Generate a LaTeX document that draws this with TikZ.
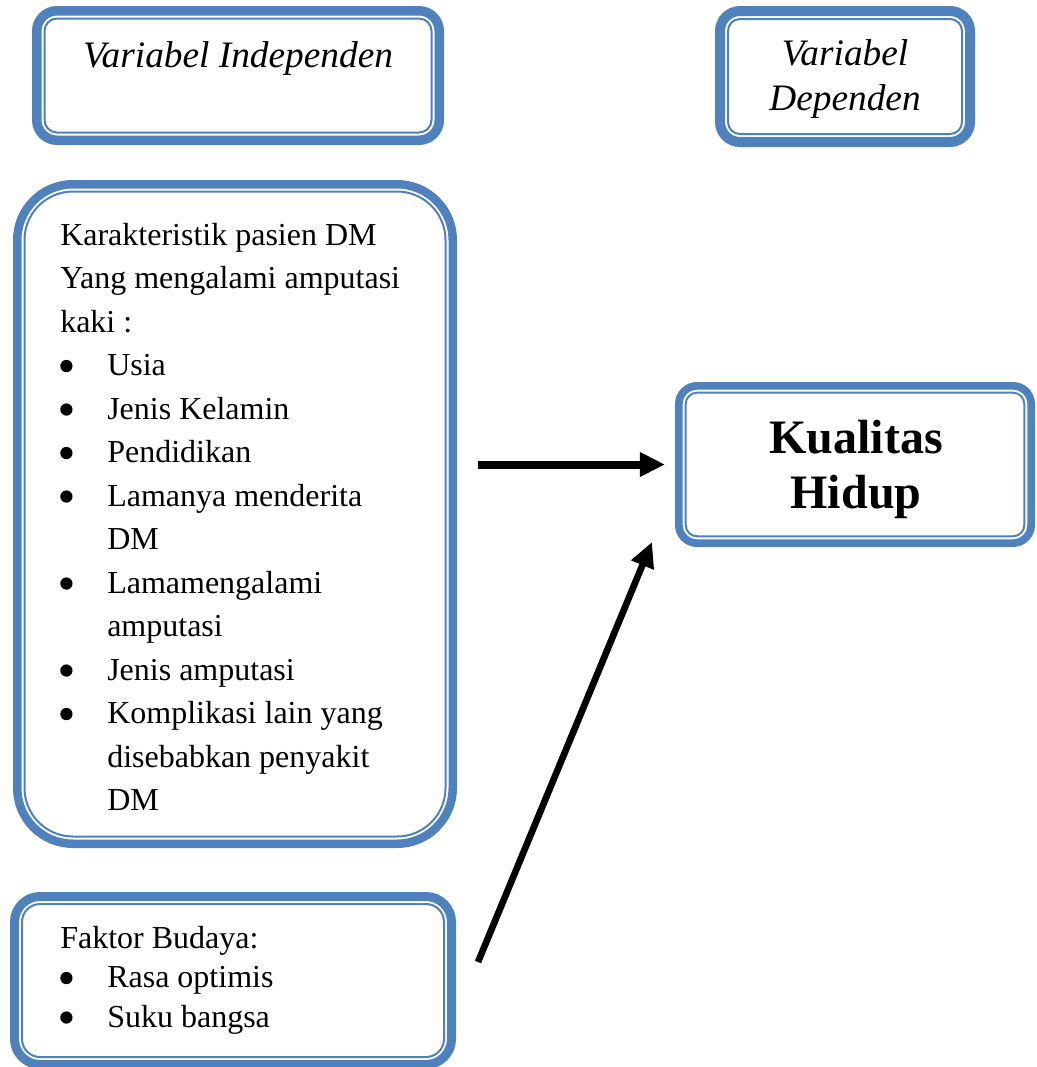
\documentclass[tikz,border=0pt]{standalone}
\usepackage{fontspec}
\setmainfont{Liberation Serif}
\usetikzlibrary{arrows.meta}
\definecolor{bxblue}{HTML}{4F81BD}
\tikzset{
  outerbox/.style={draw=bxblue, fill=white, inner sep=0pt, outer sep=0pt},
  innerline/.style={draw=bxblue, line width=1.5pt},
  bodytext/.style={font=\fontsize{24}{32.625}\selectfont, align=left, inner sep=0pt, anchor=north west},
  smalltext/.style={font=\fontsize{24}{29.6}\selectfont, align=left, inner sep=0pt, anchor=north west},
  titletext/.style={font=\fontsize{28}{33.75}\selectfont\itshape, align=center, inner sep=0pt},
  bigtext/.style={font=\fontsize{36}{41.25}\selectfont\bfseries, align=center, inner sep=0pt, anchor=north},
  arrowline/.style={draw=black, line width=#1, -{Triangle[length=18.75pt,width=17.25pt]}},
}
\newcommand\dblbox[7]{%
  \pgfmathsetmacro\bxcx{(#2+#4)/2}%
  \pgfmathsetmacro\bxcy{(#3+#5)/2}%
  \pgfmathsetmacro\bxw{(#4-#2-#7)*0.75}%
  \pgfmathsetmacro\bxh{(#5-#3-#7)*0.75}%
  \pgfmathsetmacro\bxro{(#6-#7/2)*0.75}%
  \pgfmathsetmacro\bxd{(#7/2+3)*0.75}%
  \pgfmathsetmacro\bxri{(#6-#7-3)*0.75}%
  \pgfmathsetmacro\bxlw{#7*0.75}%
  \node[outerbox, line width=\bxlw pt, minimum width=\bxw pt, minimum height=\bxh pt, rounded corners=\bxro pt] (#1) at (\bxcx,\bxcy) {};
  \draw[innerline, rounded corners=\bxri pt] ([xshift=\bxd pt,yshift=-\bxd pt]#1.north west) rectangle ([xshift=-\bxd pt,yshift=\bxd pt]#1.south east);
}
\newcommand\bulitem{\makebox[35.25pt][l]{\tikz[baseline=0pt,x=1pt,y=1pt]{\path (0,0); \fill (4.6,7.3) circle[radius=4.6];}}}
\newcommand\contline{\hspace*{35.25pt}}
\begin{document}
\begin{tikzpicture}[x=0.75pt, y=-0.75pt]
\useasboundingbox (0,0) rectangle (1037,1067);
% boxes
\dblbox{ind}{32}{6}{444}{145}{25}{9.5}
\dblbox{dep}{715}{6}{975}{147}{25}{10}
\dblbox{kar}{13}{180}{457}{848}{60}{8.5}
\dblbox{fb}{10}{892}{456}{1069}{30}{9}
\dblbox{kh}{675}{382}{1035}{547}{22}{7.7}
% texts
\node[titletext, anchor=base] (indtext) at (238,67) {Variabel Independen};
\node[titletext, anchor=north] (deptext) at (845,33.5) {\strut Variabel\\Dependen};
\node[bodytext] (kartext) at (60,214.55) {\strut Karakteristik pasien DM\\
Yang mengalami amputasi\\
kaki :\\
\bulitem Usia\\
\bulitem Jenis Kelamin\\
\bulitem Pendidikan\\
\bulitem Lamanya menderita\\
\contline DM\\
\bulitem Lamamengalami\\
\contline amputasi\\
\bulitem Jenis amputasi\\
\bulitem Komplikasi lain yang\\
\contline disebabkan penyakit\\
\contline DM};
\node[smalltext] (fbtext) at (60,920.4) {\strut Faktor Budaya:\\
\bulitem Rasa optimis\\
\bulitem Suku bangsa};
\node[bigtext] (khtext) at (856,414.5) {\strut Kualitas\\Hidup};
% connectors
\coordinate (fbout) at (478,962);
\coordinate (khin) at (652,542);
\draw[arrowline=6pt] ([xshift=19.3pt]kar.east |- kh.west) -- ([xshift=-10.4pt]kh.west);
\draw[arrowline=5pt] (fbout) -- (khin);
\end{tikzpicture}
\end{document}
